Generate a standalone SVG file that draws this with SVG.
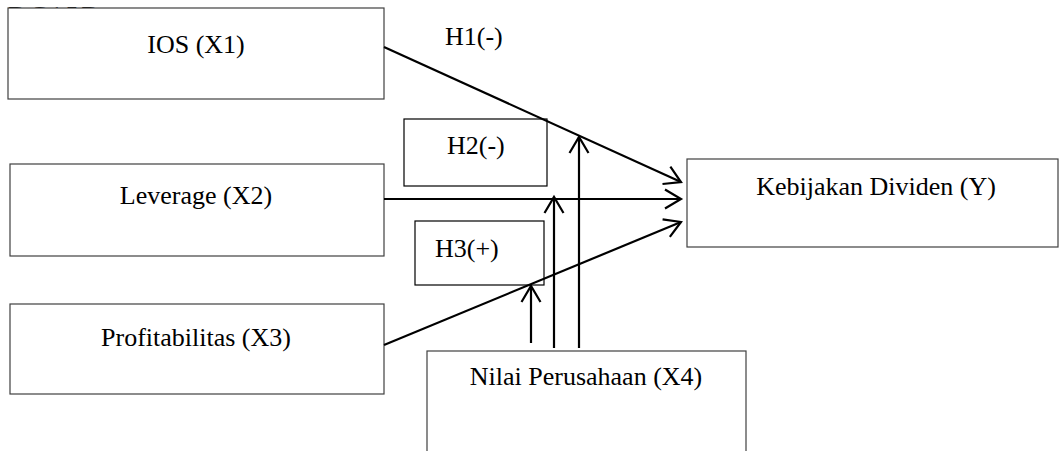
<svg xmlns="http://www.w3.org/2000/svg" width="1059" height="451" viewBox="0 0 1059 451">
  <style>
    .box { fill: #ffffff; stroke: #404040; stroke-width: 1.2; }
    .hbox { fill: #ffffff; stroke: #000000; stroke-width: 1.2; }
    .lbl { font-family: "Liberation Serif", "Times New Roman", serif; font-size: 26px; fill: #000000; }
    .edge { stroke: #000000; stroke-width: 2.2; fill: none; marker-end: url(#open); }
  </style>
  <defs>
    <marker id="open" viewBox="-20 -13 24 26" refX="0" refY="0" markerWidth="24" markerHeight="26" markerUnits="userSpaceOnUse" orient="auto">
      <path d="M -16 -9.5 L 0 0 L -16 9.5" fill="none" stroke="#000000" stroke-width="2.2"/>
    </marker>
  </defs>
  <rect width="1059" height="451" fill="#ffffff"/>

  <!-- header text, mostly covered by the first box -->
  <text class="lbl" x="8" y="24" textLength="92">DC15D</text>

  <g id="ios">
    <rect class="box" x="8" y="8" width="376" height="91"/>
    <text class="lbl" x="196" y="53" text-anchor="middle">IOS (X1)</text>
  </g>
  <g id="leverage">
    <rect class="box" x="10" y="164" width="374" height="92"/>
    <text class="lbl" x="196" y="204" text-anchor="middle">Leverage (X2)</text>
  </g>
  <g id="profitabilitas">
    <rect class="box" x="10" y="304" width="374" height="90"/>
    <text class="lbl" x="196" y="346" text-anchor="middle">Profitabilitas (X3)</text>
  </g>
  <g id="kebijakan">
    <rect class="box" x="687" y="159" width="371" height="88"/>
    <text class="lbl" x="876" y="195" text-anchor="middle">Kebijakan Dividen (Y)</text>
  </g>
  <g id="nilai">
    <rect class="box" x="427" y="351" width="319" height="120"/>
    <text class="lbl" x="586" y="385" text-anchor="middle">Nilai Perusahaan (X4)</text>
  </g>
  <g id="h1">
    <text class="lbl" x="445" y="45">H1(-)</text>
  </g>
  <g id="h2">
    <rect class="hbox" x="404" y="119" width="143" height="67"/>
    <text class="lbl" x="447" y="154">H2(-)</text>
  </g>
  <g id="h3">
    <rect class="hbox" x="415" y="221" width="129" height="64"/>
    <text class="lbl" x="435" y="257">H3(+)</text>
  </g>

  <g id="connectors">
    <path class="edge" d="M 384 47 L 681 182"/>
    <path class="edge" d="M 384 199 L 681 199"/>
    <path class="edge" d="M 384 345 L 681 222"/>
    <path class="edge" d="M 531 343 L 531 286"/>
    <path class="edge" d="M 554 348 L 554 197"/>
    <path class="edge" d="M 579 348 L 579 137"/>
  </g>
</svg>
